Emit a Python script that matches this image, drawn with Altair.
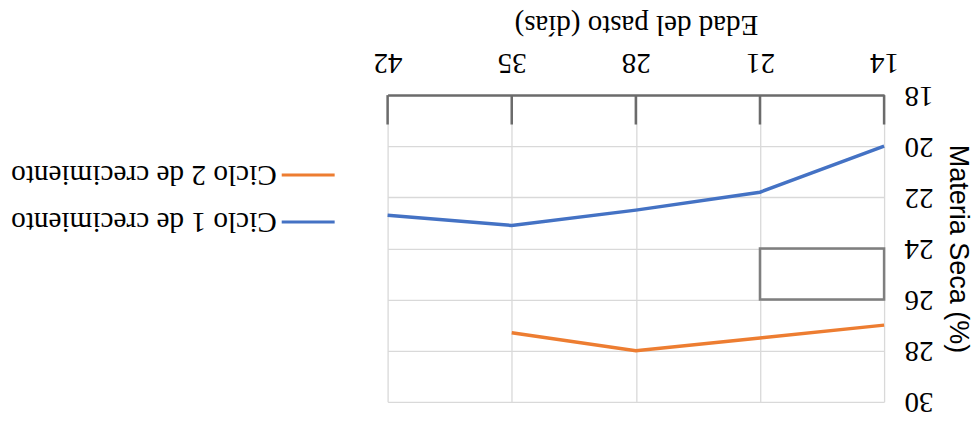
import altair as alt
import pandas as pd

# ---- data read from the (upside-down) reference ----
edad = [14, 21, 28, 35, 42]
ciclo1 = [20.0, 21.8, 22.5, 23.1, 22.7]
ciclo2 = [27.0, 27.5, 28.0, 27.3]
series = ["Ciclo 1 de crecimiento", "Ciclo 2 de crecimiento"]
colores = ["#4472C4", "#ED7D31"]
y_ticks = [18, 20, 22, 24, 26, 28, 30]

# dark frame fragments visible in the picture
marco_x = [14, 21, 28, 35, 42]
marco_y0 = 18
marco_y1 = 19.15
caja_x = [14, 21]
caja_y = [24, 26]

rows = []
for e, v in zip(edad, ciclo1):
    rows.append({"edad": e, "ms": v, "serie": series[0]})
for e, v in zip(edad, ciclo2):
    rows.append({"edad": e, "ms": v, "serie": series[1]})
df = pd.DataFrame(rows)

SERIF = "Liberation Serif"
SANS = "Liberation Sans"

xscale = alt.Scale(domain=[14, 42], reverse=True, nice=False, zero=False)
yscale = alt.Scale(domain=[18, 30], reverse=True, nice=False, zero=False)

xaxis = alt.Axis(
    orient="top", values=edad, title="Edad del pasto (días)",
    labelAngle=180, labelAlign="center", labelBaseline="top",
    labelFont=SERIF, labelFontSize=29, labelColor="#000", labelPadding=19,
    titleAngle=180, titleBaseline="top", titleFont=SERIF, titleFontSize=29,
    titleFontWeight="normal", titleColor="#000", titlePadding=9,
    ticks=False, domainColor="#6b6b6b", domainWidth=2.5,
    grid=True, gridColor="#d9d9d9", gridWidth=1.3,
)
yaxis = alt.Axis(
    orient="right", values=y_ticks, title="Materia Seca (%)",
    labelAngle=180, labelAlign="right", labelBaseline="middle",
    labelFont=SERIF, labelFontSize=29, labelColor="#000", labelPadding=20,
    titleFont=SANS, titleFontSize=27, titleFontWeight="normal",
    titleColor="#000", titlePadding=10,
    ticks=False, domain=False,
    grid=True, gridColor="#d9d9d9", gridWidth=1.3,
)

lines = alt.Chart(df).mark_line(strokeWidth=3.5).encode(
    x=alt.X("edad:Q", scale=xscale, axis=xaxis),
    y=alt.Y("ms:Q", scale=yscale, axis=yaxis),
    color=alt.Color("serie:N", scale=alt.Scale(domain=series, range=colores), legend=None),
)

marco = alt.Chart(pd.DataFrame({"x": marco_x, "y0": marco_y0, "y1": marco_y1})).mark_rule(
    color="#6b6b6b", strokeWidth=2.5
).encode(x=alt.X("x:Q", scale=xscale), y=alt.Y("y0:Q", scale=yscale), y2="y1:Q")

caja = alt.Chart(pd.DataFrame({"x0": [caja_x[0]], "x1": [caja_x[1]], "y0": [caja_y[0]], "y1": [caja_y[1]]})).mark_rect(
    fillOpacity=0, stroke="#7f7f7f", strokeWidth=2.5
).encode(x=alt.X("x0:Q", scale=xscale), x2="x1:Q", y=alt.Y("y0:Q", scale=yscale), y2="y1:Q")

leyenda = []
for name, col, ypx in [(series[1], colores[1], 80), (series[0], colores[0], 127)]:
    d = pd.DataFrame({"s": [name]})
    leyenda.append(
        alt.Chart(d).mark_rule(color=col, strokeWidth=3).encode(
            x=alt.value(-106), x2=alt.value(-53), y=alt.value(ypx)
        )
    )
    leyenda.append(
        alt.Chart(d).mark_text(
            angle=180, align="left", baseline="middle", font=SERIF, fontSize=29.3, color="#000"
        ).encode(x=alt.value(-111), y=alt.value(ypx), text="s:N")
    )

chart = alt.layer(lines, marco, caja, *leyenda).properties(
    width=497, height=307,
    padding={"left": 2, "top": 0, "right": 0, "bottom": 0},
).configure_view(stroke=None)

chart.save("out.html", embed_options={"renderer": "svg", "actions": False})
